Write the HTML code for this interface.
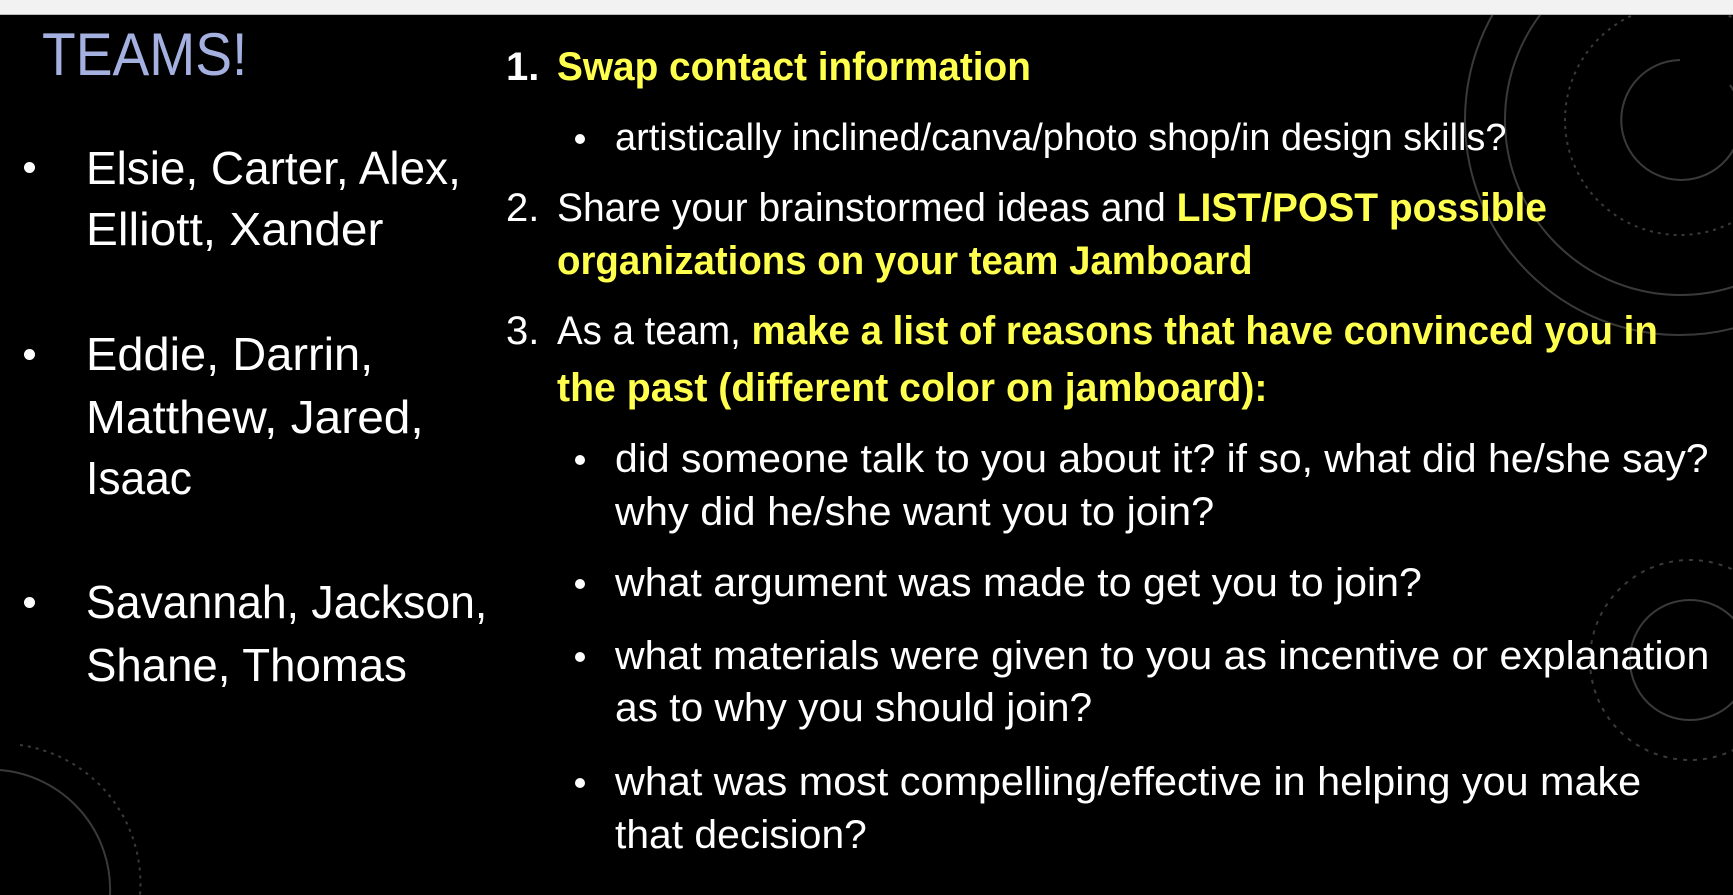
<!DOCTYPE html>
<html><head><meta charset="utf-8"><style>
html,body{margin:0;padding:0;width:1733px;height:895px;overflow:hidden;background:#000}
#top{position:absolute;left:0;top:0;width:1733px;height:14px;background:#f2f2f2;border-bottom:1px solid #bbb}
.t{position:absolute;white-space:nowrap;font-family:"Liberation Sans",sans-serif;color:#fff;transform-origin:0 50%;display:inline-block}
.y{color:#ffff4d;font-weight:bold}
.b{position:absolute;width:11px;height:11px;border-radius:50%;background:#fff}
svg{position:absolute;left:0;top:0}
</style></head><body>
<svg width="1733" height="895">
<g fill="none" stroke="#3a3a3a" stroke-width="2">
<circle cx="1680" cy="120" r="215"/>
<circle cx="1680" cy="120" r="175"/>
<circle cx="1680" cy="120" r="115" stroke-dasharray="3 5"/>
<path d="M1680 60 a60 60 0 1 0 50 25"/>
<circle cx="1690" cy="660" r="100" stroke-dasharray="4 6"/>
<circle cx="1690" cy="660" r="60"/>
<path d="M0 770 a120 120 0 0 1 110 125"/>
<path d="M20 745 a140 140 0 0 1 120 150" stroke-dasharray="3 5"/>
</g></svg>
<div id="top"></div>
<div class="t" style="left:42px;top:20px;font-size:60px;line-height:70px;color:#a4b0e0" data-w="205">TEAMS!</div>

<div class="b" style="left:24px;top:162px"></div>
<div class="t" data-w="375" style="left:86px;top:145px;font-size:46px;line-height:46px">Elsie, Carter, Alex,</div>
<div class="t" data-w="297" style="left:86px;top:206px;font-size:46px;line-height:46px">Elliott, Xander</div>
<div class="b" style="left:24px;top:349px"></div>
<div class="t" data-w="287" style="left:86px;top:331px;font-size:46px;line-height:46px">Eddie, Darrin,</div>
<div class="t" data-w="338" style="left:86px;top:394px;font-size:46px;line-height:46px">Matthew, Jared,</div>
<div class="t" data-w="106" style="left:86px;top:455px;font-size:46px;line-height:46px">Isaac</div>
<div class="b" style="left:24px;top:597px"></div>
<div class="t" data-w="401" style="left:86px;top:579px;font-size:46px;line-height:46px">Savannah, Jackson,</div>
<div class="t" data-w="321" style="left:86px;top:642px;font-size:46px;line-height:46px">Shane, Thomas</div>

<div class="t" style="left:506px;top:47px;font-size:40px;line-height:40px;font-weight:bold">1.</div>
<div class="t y" data-w="474" style="left:557px;top:47px;font-size:40px;line-height:40px">Swap contact information</div>
<div class="b" style="left:575px;top:134px;width:10px;height:10px"></div>
<div class="t" data-w="891" style="left:615px;top:119px;font-size:38px;line-height:38px">artistically inclined/canva/photo shop/in design skills?</div>

<div class="t" style="left:506px;top:188px;font-size:40px;line-height:40px">2.</div>
<div class="t" data-w="990" style="left:557px;top:188px;font-size:40px;line-height:40px">Share your brainstormed ideas and <span class="y">LIST/POST possible</span></div>
<div class="t y" data-w="696" style="left:557px;top:241px;font-size:40px;line-height:40px">organizations on your team Jamboard</div>

<div class="t" style="left:506px;top:311px;font-size:40px;line-height:40px">3.</div>
<div class="t" data-w="1101" style="left:557px;top:311px;font-size:40px;line-height:40px">As a team, <span class="y">make a list of reasons that have convinced you in</span></div>
<div class="t y" data-w="710" style="left:557px;top:368px;font-size:40px;line-height:40px">the past (different color on jamboard):</div>

<div class="b" style="left:575px;top:455px;width:10px;height:10px"></div>
<div class="t" data-w="1094" style="left:615px;top:439px;font-size:40px;line-height:40px">did someone talk to you about it? if so, what did he/she say?</div>
<div class="t" data-w="599" style="left:615px;top:492px;font-size:40px;line-height:40px">why did he/she want you to join?</div>
<div class="b" style="left:575px;top:579px;width:10px;height:10px"></div>
<div class="t" data-w="807" style="left:615px;top:563px;font-size:40px;line-height:40px">what argument was made to get you to join?</div>
<div class="b" style="left:575px;top:652px;width:10px;height:10px"></div>
<div class="t" data-w="1094" style="left:615px;top:636px;font-size:40px;line-height:40px">what materials were given to you as incentive or explanation</div>
<div class="t" data-w="477" style="left:615px;top:688px;font-size:40px;line-height:40px">as to why you should join?</div>
<div class="b" style="left:575px;top:778px;width:10px;height:10px"></div>
<div class="t" data-w="1026" style="left:615px;top:762px;font-size:40px;line-height:40px">what was most compelling/effective in helping you make</div>
<div class="t" data-w="252" style="left:615px;top:815px;font-size:40px;line-height:40px">that decision?</div>
<script>
document.querySelectorAll('[data-w]').forEach(function(e){
 var w=parseFloat(e.getAttribute('data-w'));var a=e.offsetWidth;
 if(a>0)e.style.transform='scaleX('+(w/a)+')';
});
</script>
</body></html>
